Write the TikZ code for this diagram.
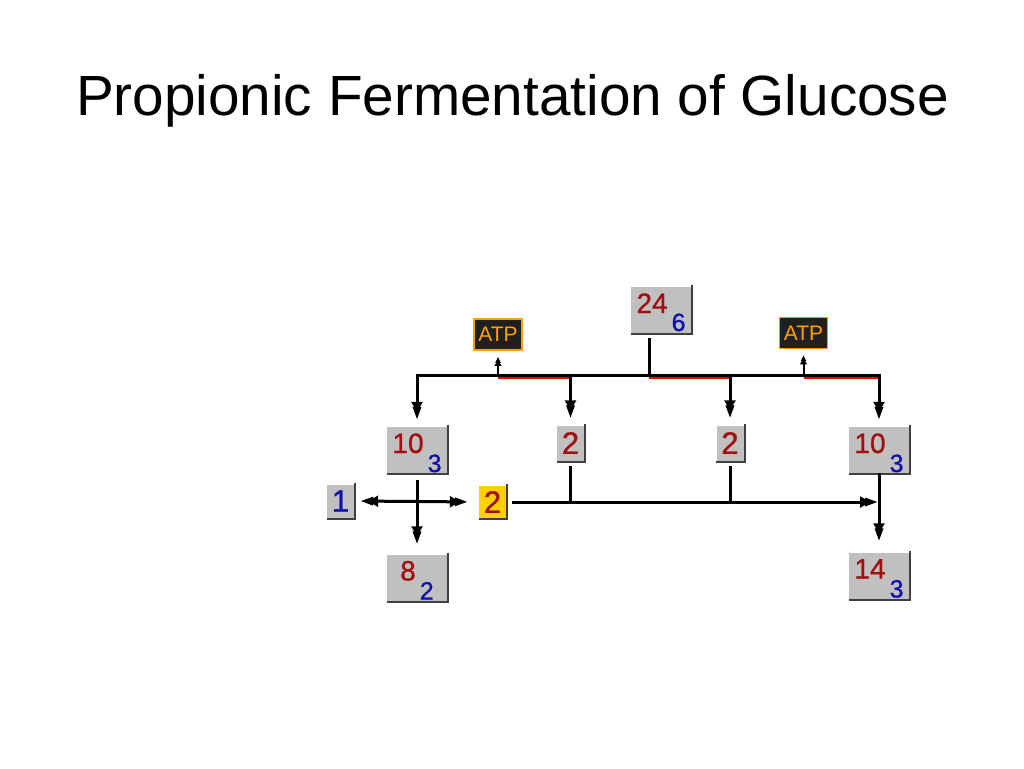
\documentclass[tikz,border=0pt]{standalone}
\usepackage{fontspec}
\setmainfont{Liberation Sans}
\newfontfamily\numfont[FakeBold=1]{Liberation Sans}
\usetikzlibrary{arrows.meta}
\definecolor{numred}{RGB}{160,16,16}
\definecolor{subblue}{RGB}{16,16,170}
\definecolor{boxgray}{RGB}{192,192,192}
\definecolor{shadowgray}{RGB}{64,64,64}
\definecolor{atporange}{RGB}{255,160,0}
\definecolor{atpfill}{RGB}{32,32,32}
\definecolor{goldbox}{RGB}{255,208,0}
\definecolor{redline}{RGB}{240,0,0}
\newcommand\nb[5]{{\numfont\fontsize{#3}{#3}\selectfont\color{numred}#1}\hspace{4pt}\raisebox{-#5}{\numfont\fontsize{#4}{#4}\selectfont\color{subblue}#2}}
\newcommand\dg[2]{{\numfont\fontsize{31pt}{31pt}\selectfont\color{#1}#2}}
\begin{document}
\begin{tikzpicture}[x=1pt,y=-1pt,
  box/.style={fill=boxgray, inner sep=0pt, minimum width=60pt, minimum height=46pt, text height=26pt, text depth=20pt},
  sbox/.style={fill=boxgray, inner sep=0pt, minimum width=27pt, minimum height=35pt},
  atp/.style={fill=atpfill, draw=atporange, line width=1.5pt, inner sep=0pt, minimum width=48pt, minimum height=31pt, text=atporange, font=\fontsize{21pt}{21pt}\selectfont},
  shadowline/.style={shadowgray, line width=2pt},
  conn/.style={line width=3pt},
  arr/.style={conn, -{Triangle[length=10pt,width=11pt,sep=-5pt]Triangle[length=13pt,width=8pt]}},
  arrboth/.style={conn, {Triangle[length=13pt,width=8pt]Triangle[length=10pt,width=11pt,sep=-5pt]}-{Triangle[length=10pt,width=11pt,sep=-5pt]Triangle[length=13pt,width=8pt]}},
  sarr/.style={line width=2pt, -{Triangle[length=5pt,width=7pt,sep=-2pt]Triangle[length=6pt,width=5pt]}},
  redseg/.style={redline, line width=2pt}
]
\fill[white] (0,0) rectangle (1024,768);
\useasboundingbox (0,0) rectangle (1024,768);

\node[anchor=base, font=\fontsize{56.7pt}{56.7pt}\selectfont] (title) at (512.5,115) {Propionic Fermentation of Glucose};

% boxes
\node[box] (n24) at (661,310) {\nb{24}{6}{28pt}{25pt}{18pt}};
\node[box] (n10L) at (417,450) {\nb{10}{3}{28pt}{25pt}{19pt}};
\node[box] (n10R) at (879,450) {\nb{10}{3}{28pt}{25pt}{19pt}};
\node[box] (n8) at (417,577.5) {\nb{8}{2}{28pt}{25pt}{19pt}};
\node[box] (n14) at (879,575.5) {\nb{14}{3}{28pt}{25pt}{19pt}};
\node[sbox] (n2a) at (570.5,443) {\dg{numred}{2}};
\node[sbox] (n2b) at (730,443) {\dg{numred}{2}};
\node[sbox, minimum height=33pt] (n1) at (340.5,501) {\dg{subblue}{1}};
\node[sbox, fill=goldbox, minimum height=32pt] (n2y) at (492.5,502) {\dg{numred}{2}};
\node[atp] (atpL) at (498,334.5) {ATP};
\node[atp] (atpR) at (803.5,333) {ATP};

\foreach \n in {n24,n10L,n10R,n8,n14,n2a,n2b,n1,n2y}
  \draw[shadowline] ([xshift=1pt,yshift=1.5pt]\n.north east) -- ([xshift=1pt,yshift=-1pt]\n.south east) -- ([yshift=-1pt]\n.south west);

% junctions
\coordinate (mL) at (417,375);
\coordinate (mR) at (879,375);
\coordinate (m2a) at (570.5,375);
\coordinate (m2b) at (730,375);
\coordinate (mAL) at (498,375);
\coordinate (mAR) at (803.5,375);
\coordinate (m24) at (649,375);
\coordinate (jR) at (879,502);

% red segments under main line
\draw[redseg] ([yshift=-3pt]mAL) -- ([yshift=-3pt]m2a);
\draw[redseg] ([yshift=-3pt]m24) -- ([yshift=-3pt]m2b);
\draw[redseg] ([yshift=-3pt]mAR) -- ([yshift=-3pt]mR);

% main line
\draw[conn] ([xshift=-1.5pt]mL) -- ([xshift=1.5pt]mR);
\draw[conn, shorten <=5pt] (m24 |- n24.south) -- (m24);

% down arrows
\draw[arr, shorten >=7pt] (mL) -- (n10L.north);
\draw[arr, shorten >=7pt] (m2a) -- (n2a.north);
\draw[arr, shorten >=7pt] (m2b) -- (n2b.north);
\draw[arr, shorten >=7pt] (mR) -- (n10R.north);

% ATP arrows
\draw[sarr, shorten >=6pt] (mAL) -- (atpL.south);
\draw[sarr, shorten >=6pt] (mAR) -- (atpR.south);

% left cluster
\draw[arr, shorten <=7pt, shorten >=10pt] (n10L.south) -- (n8.north);
\draw[arrboth, shorten <=6pt, shorten >=11pt] (n1.east) -- (n2y.west);

% right line
\draw[arr, shorten <=6pt, shorten >=1pt] (n2y.east) -- (jR);
\draw[conn, shorten <=5pt] (n2a.south) -- (n2a.south |- jR);
\draw[conn, shorten <=5pt] (n2b.south) -- (n2b.south |- jR);
\draw[arr, shorten >=11pt] (n10R.south) -- (n14.north);
\end{tikzpicture}
\end{document}
